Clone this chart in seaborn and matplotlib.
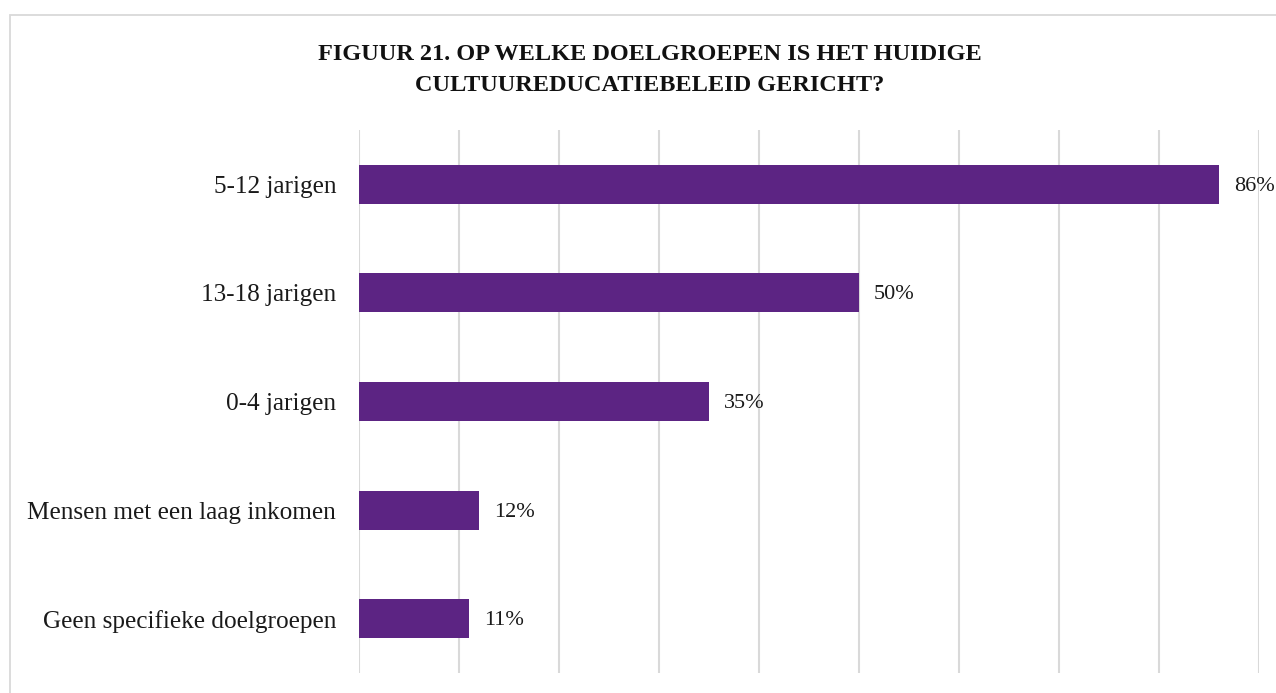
import matplotlib
matplotlib.use("Agg")
import matplotlib.pyplot as plt
from matplotlib.patches import Rectangle
from matplotlib.ticker import MultipleLocator
import seaborn as sns
import pandas as pd

categories = [
    "5-12 jarigen",
    "13-18 jarigen",
    "0-4 jarigen",
    "Mensen met een laag inkomen",
    "Geen specifieke doelgroepen",
]
values = [86, 50, 35, 12, 11]
value_labels = ["86%", "50%", "35%", "12%", "11%"]
title = "FIGUUR 21. OP WELKE DOELGROEPEN IS HET HUIDIGE\nCULTUUREDUCATIEBELEID GERICHT?"

sns.set_theme(style="white")
plt.rcParams["font.family"] = ["Liberation Serif", "DejaVu Serif"]

W, H, DPI = 1276, 693, 100
fig = plt.figure(figsize=(W / DPI, H / DPI), dpi=DPI)
fig.patch.set_facecolor("white")

# outer frame (only top and left edges fall inside the canvas)
fig.patches.append(Rectangle((9.5 / W, -0.2), 1.5, 1 - 14.5 / H + 0.2,
                             transform=fig.transFigure, fill=False,
                             edgecolor="#d9d9d9", linewidth=1.3, zorder=0))

ax = fig.add_axes([359 / W, 20 / H, 900 / W, 543 / H])
df = pd.DataFrame({"group": categories, "pct": values})
sns.barplot(data=df, x="pct", y="group", color="#5C2483", saturation=1,
            width=0.36, linewidth=0, ax=ax, zorder=3)

ax.set_xlim(0, 90)
ax.xaxis.set_major_locator(MultipleLocator(10))
ax.grid(axis="x", color="#d9d9d9", linewidth=1.5)
ax.grid(axis="y", visible=False)
for s in ax.spines.values():
    s.set_visible(False)
ax.set_xticklabels([])
ax.tick_params(axis="x", length=0)
ax.tick_params(axis="y", length=0, pad=16.5, labelsize=18.2, labelcolor="#1a1a1a")
ax.set_xlabel("")
ax.set_ylabel("")

for i, (v, lab) in enumerate(zip(values, value_labels)):
    ax.annotate(lab, xy=(v, i), xytext=(15, -2), textcoords="offset pixels",
                ha="left", va="center", fontsize=16, color="#1a1a1a")

fig.text(650 / W, 1 - 70 / H, title, ha="center", va="center",
         fontsize=17.5, fontweight="bold", color="#111111", linespacing=1.65)

fig.savefig("out.png", dpi=DPI, facecolor="white")
